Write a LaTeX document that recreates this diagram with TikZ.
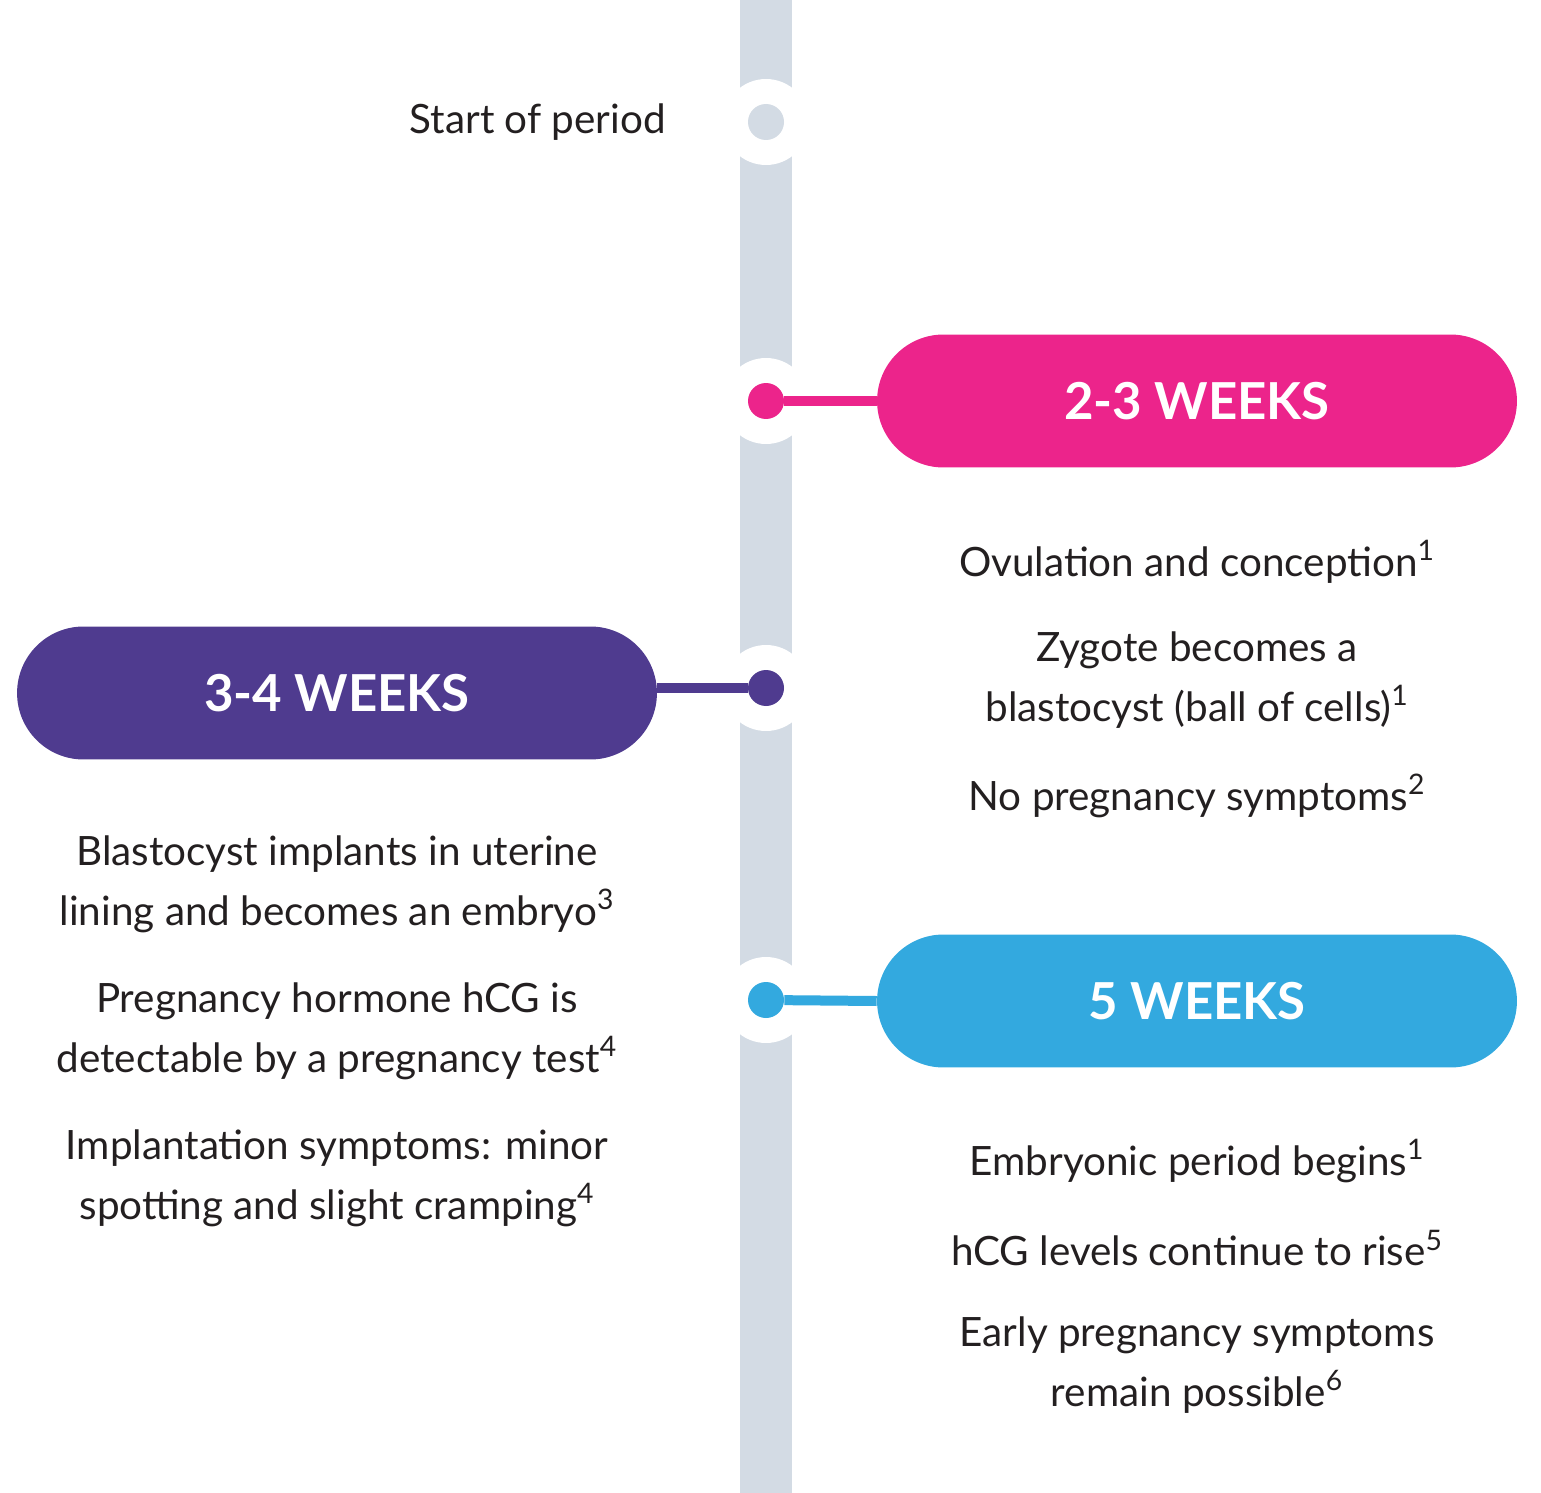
\documentclass[tikz,border=0pt]{standalone}
\usepackage{fontspec}
\setmainfont{Lato}
\definecolor{bar}{HTML}{D3DBE4}
\definecolor{pinkc}{HTML}{EC248B}
\definecolor{purp}{HTML}{4F3B8F}
\definecolor{bluec}{HTML}{33A9DF}
\definecolor{txt}{HTML}{231F20}
\begin{document}
\begin{tikzpicture}[x=0.02cm,y=-0.02cm,
  pill/.style={rounded corners=1.33cm,minimum width=12.8cm,minimum height=2.66cm,text=white,font=\fontsize{29}{34}\selectfont\bfseries},
  body/.style={text=txt,align=center,font=\fontsize{23}{34}\selectfont},
  ring/.style={circle,fill=white,minimum size=1.72cm,inner sep=0pt},
  dot/.style={circle,minimum size=0.72cm,inner sep=0pt}]
\useasboundingbox (0,0) rectangle (1541,1493);
\fill[bar] (740,0) rectangle (792,1493);
\node[ring] (r0) at (766,122) {};
\node[ring] (r1) at (766,401) {};
\node[ring] (r2) at (766,688) {};
\node[ring] (r3) at (766,1000) {};
\node[dot,fill=bar] (d0) at (766,122) {};
\node[dot,fill=pinkc] (d1) at (766,401) {};
\node[dot,fill=purp] (d2) at (766,688) {};
\node[dot,fill=bluec] (d3) at (766,1000) {};
\node[pill,fill=pinkc] (p1) at (1197,401) {2-3 WEEKS};
\node[pill,fill=purp] (p2) at (337,693) {3-4 WEEKS};
\node[pill,fill=bluec] (p3) at (1197,1001) {5 WEEKS};
\draw[pinkc,line width=0.2cm] (d1) -- (p1.west);
\draw[purp,line width=0.2cm] (d2) -- (d2 -| p2.east);
\draw[bluec,line width=0.2cm] (d3) -- (p3.west);
\node[body,anchor=east] (s0) at (672,122) {Start of period};
\node[body] (t1) at (1197,562) {Ovulation and conception\textsuperscript{1}};
\node[body] (t2) at (1197,680) {Zygote becomes a\\blastocyst (ball of cells)\textsuperscript{1}};
\node[body] (t3) at (1197,796) {No pregnancy symptoms\textsuperscript{2}};
\node[body] (l1) at (337,884) {Blastocyst implants in uterine\\lining and becomes an embryo\textsuperscript{3}};
\node[body] (l2) at (337,1031) {Pregnancy hormone hCG is\\detectable by a pregnancy test\textsuperscript{4}};
\node[body] (l3) at (337,1178) {Implantation symptoms: minor\\spotting and slight cramping\textsuperscript{4}};
\node[body] (b1) at (1197,1161) {Embryonic period begins\textsuperscript{1}};
\node[body] (b2) at (1197,1248) {hCG levels continue to rise\textsuperscript{5}};
\node[body] (b3) at (1197,1365) {Early pregnancy symptoms\\remain possible\textsuperscript{6}};
\end{tikzpicture}
\end{document}
